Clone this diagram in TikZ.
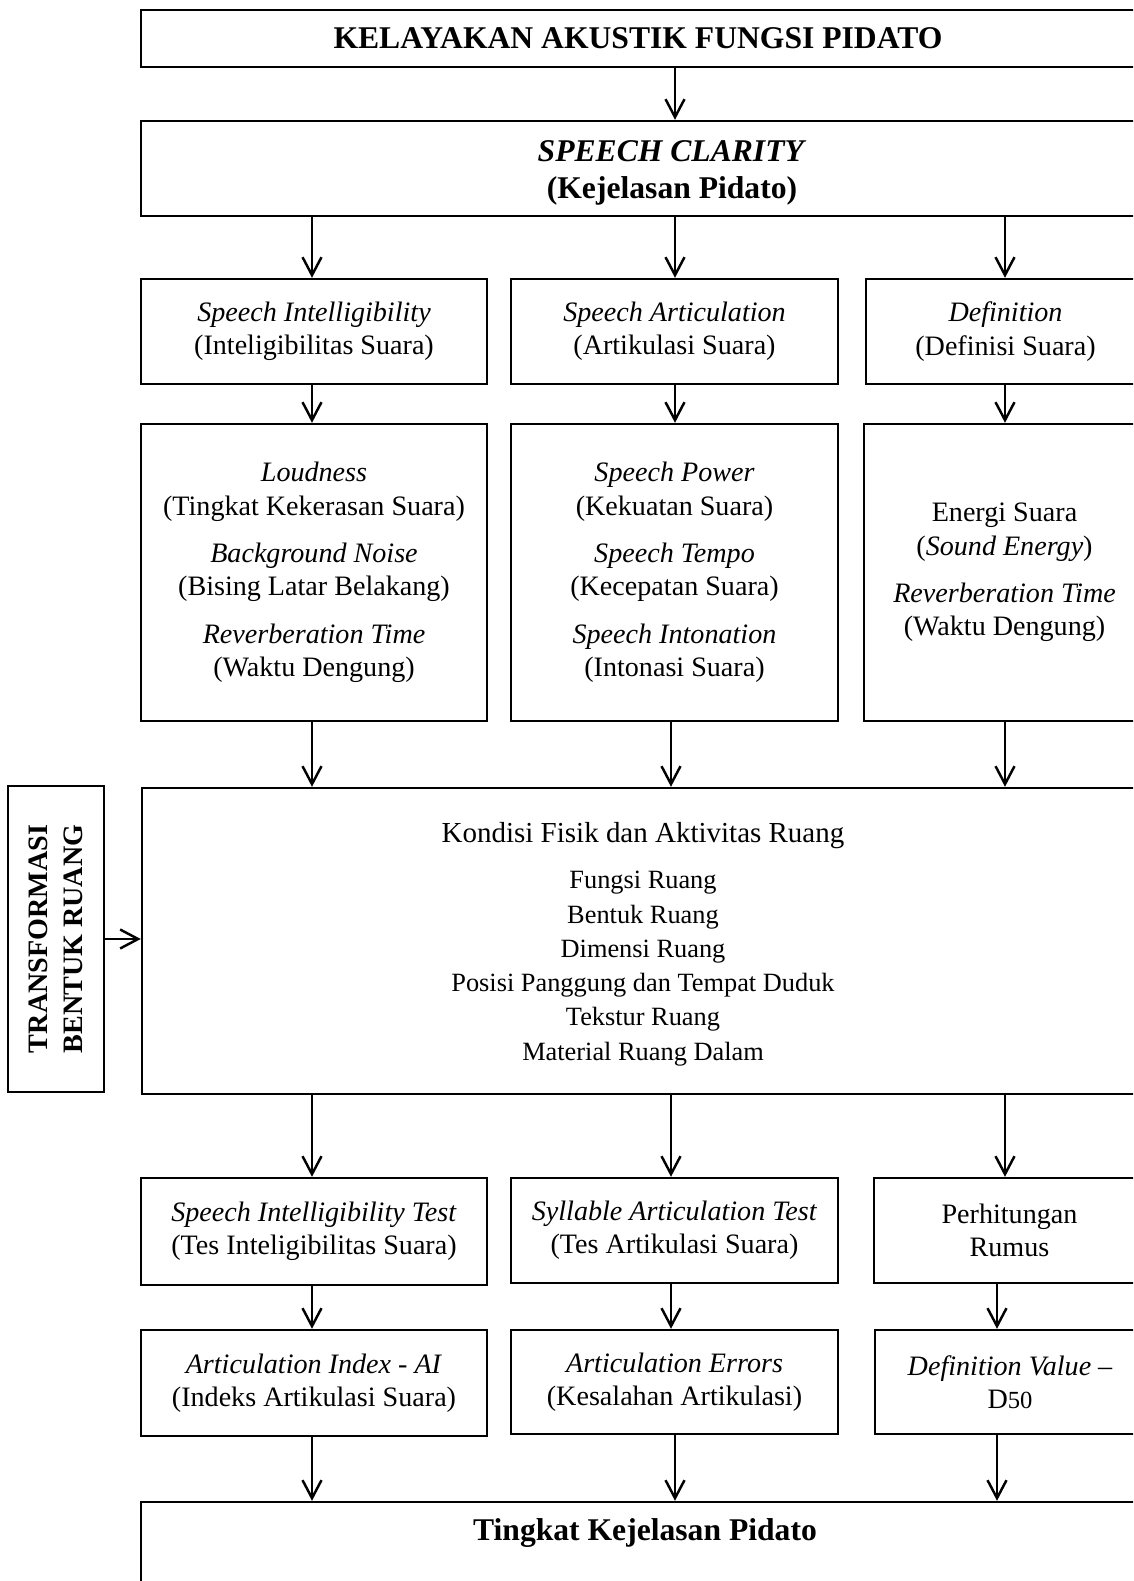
\documentclass[tikz,border=0pt]{standalone}
\usepackage{fontspec}
\setmainfont{Liberation Serif}
\usepackage{tikz}
\usetikzlibrary{fit}
\usetikzlibrary{arrows.meta}

\begin{document}
\begin{tikzpicture}[
            x = 0.02cm, y = -0.02cm, % one unit = one pixel of the sketch
            > = {Straight Barb[length=3.6mm, width=3.8mm]}, % arrow head style
            line width = 1.4pt % line style
        ]

        \tikzset{
            box/.style={draw, inner sep=0pt, align=center, font=\fontsize{16}{19}\selectfont},
            headtxt/.style={font=\fontsize{18}{21.5}\selectfont\bfseries, align=center},
            listtxt/.style={font=\fontsize{15}{19.5}\selectfont, align=center}
        }

        \useasboundingbox (0,0) rectangle (1133,1581);
        \clip (0,0) rectangle (1133,1581);

        % arrow columns
        \coordinate (cA) at (312,0);
        \coordinate (cB) at (675,0);
        \coordinate (cBb) at (671,0);
        \coordinate (cC) at (1005,0);
        \coordinate (cCb) at (997,0);

	% title level
        \node[box, headtxt, minimum width=19.88cm, minimum height=1.14cm] (title) at (638,38.5) {KELAYAKAN AKUSTIK FUNGSI PIDATO};
        \node[box, fit={(141,121) (1145,216)}] (clarity) {};
        \node[headtxt] (claritytxt) at (672,173) {\textit{SPEECH CLARITY}\\(Kejelasan Pidato)};

        \draw[->] (title.south -| cB) -- (clarity.north -| cB);

        % aspects
        \node[box, minimum width=6.92cm, minimum height=2.1cm] (intel) at (314,331.5) {\textit{Speech Intelligibility}\\(Inteligibilitas Suara)};
        \node[box, minimum width=6.54cm, minimum height=2.1cm] (artic) at (674.5,331.5) {\textit{Speech Articulation}\\(Artikulasi Suara)};
        \node[box, minimum width=5.58cm, minimum height=2.1cm] (defin) at (1005.5,331.5) {\textit{Definition}\\(Definisi Suara)};

        \draw[->] (clarity.south -| cA) -- (intel.north -| cA);
        \draw[->] (clarity.south -| cB) -- (artic.north -| cB);
        \draw[->] (clarity.south -| cC) -- (defin.north -| cC);

        % factors
        \node[box, minimum width=6.92cm, minimum height=5.94cm] (loud) at (314,572.5) {\textit{Loudness}\\(Tingkat Kekerasan Suara)\\[8pt]\textit{Background Noise}\\(Bising Latar Belakang)\\[8pt]\textit{Reverberation Time}\\(Waktu Dengung)};
        \node[box, minimum width=6.54cm, minimum height=5.94cm] (power) at (674.5,572.5) {\textit{Speech Power}\\(Kekuatan Suara)\\[8pt]\textit{Speech Tempo}\\(Kecepatan Suara)\\[8pt]\textit{Speech Intonation}\\(Intonasi Suara)};
        \node[box, minimum width=5.62cm, minimum height=5.94cm] (energy) at (1004.5,572.5) {Energi Suara\\(\textit{Sound Energy})\\[8pt]\textit{Reverberation Time}\\(Waktu Dengung)};

        \draw[->] (intel.south -| cA) -- (loud.north -| cA);
        \draw[->] (artic.south -| cB) -- (power.north -| cB);
        \draw[->] (defin.south -| cC) -- (energy.north -| cC);

        % room
        \node[box, fit={(142,788) (1145,1094)}] (room) {};
        \node[listtxt] (roomtxt) at (643,944) {{\fontsize{16.5}{19.5}\selectfont Kondisi Fisik dan Aktivitas Ruang}\\[7pt]Fungsi Ruang\\Bentuk Ruang\\Dimensi Ruang\\Posisi Panggung dan Tempat Duduk\\Tekstur Ruang\\Material Ruang Dalam};
        \node[box, fit={(8,786) (104,1092)}] (transf) {};
        \node[rotate=90, align=center, font=\fontsize{16}{20}\selectfont\bfseries] (transftxt) at (transf.center) {TRANSFORMASI\\BENTUK RUANG};

        \draw[->] (loud.south -| cA) -- (room.north -| cA);
        \draw[->] (power.south -| cBb) -- (room.north -| cBb);
        \draw[->] (energy.south -| cC) -- (room.north -| cC);
        \draw[->] (transf.east) -- (transf.east -| room.west);

        % tests
        \node[box, minimum width=6.92cm, minimum height=2.14cm] (sitest) at (314,1231.5) {\textit{Speech Intelligibility Test}\\(Tes Inteligibilitas Suara)};
        \node[box, minimum width=6.54cm, minimum height=2.1cm] (satest) at (674.5,1230.5) {\textit{Syllable Articulation Test}\\(Tes Artikulasi Suara)};
        \node[box, minimum width=5.42cm, minimum height=2.1cm] (calc) at (1009.5,1230.5) {Perhitungan\\Rumus};

        \draw[->] (room.south -| cA) -- (sitest.north -| cA);
        \draw[->] (room.south -| cBb) -- (satest.north -| cBb);
        \draw[->] (room.south -| cC) -- (calc.north -| cC);

        % results
        \node[box, minimum width=6.92cm, minimum height=2.12cm] (ai) at (314,1383) {\textit{Articulation Index - AI}\\(Indeks Artikulasi Suara)};
        \node[box, minimum width=6.54cm, minimum height=2.08cm] (errors) at (674.5,1382) {\textit{Articulation Errors}\\(Kesalahan Artikulasi)};
        \node[box, minimum width=5.4cm, minimum height=2.08cm] (dvalue) at (1010,1382) {\textit{Definition Value} --\\D{\fontsize{14}{19}\selectfont 50}};

        \draw[->] (sitest.south -| cA) -- (ai.north -| cA);
        \draw[->] (satest.south -| cBb) -- (errors.north -| cBb);
        \draw[->] (calc.south -| cCb) -- (dvalue.north -| cCb);

        \node[box, fit={(141,1502) (1145,1620)}] (level) {};
        \node[headtxt] (leveltxt) at (645,1533) {Tingkat Kejelasan Pidato};

        \draw[->] (ai.south -| cA) -- (level.north -| cA);
        \draw[->] (errors.south -| cB) -- (level.north -| cB);
        \draw[->] (dvalue.south -| cCb) -- (level.north -| cCb);

\end{tikzpicture}
\end{document}
